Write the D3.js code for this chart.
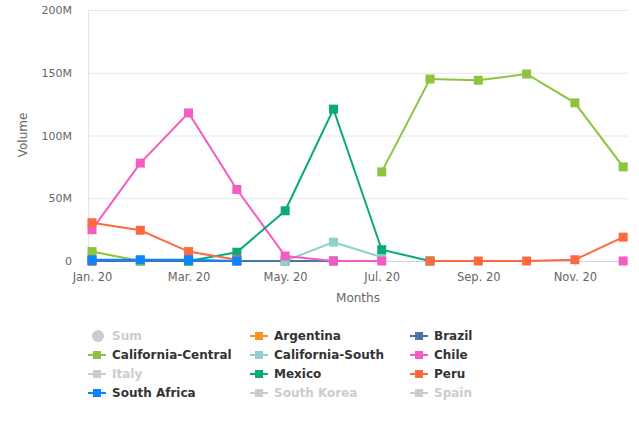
<!DOCTYPE html>
<html>
<head>
<meta charset="utf-8">
<script src="https://cdn.jsdelivr.net/npm/d3@7"></script>
<style>
  body { margin: 0; background: #fff; }
  svg { display: block; font-family: "DejaVu Sans", sans-serif; }
</style>
</head>
<body>
<div class="container"></div>
<script>
const WIDTH = 639;
const HEIGHT = 426;

// months shown on the x axis (one point per month)
const months = ["Jan. 20", "Feb. 20", "Mar. 20", "Apr. 20", "May. 20", "Jun. 20",
                "Jul. 20", "Aug. 20", "Sep. 20", "Oct. 20", "Nov. 20", "Dec. 20"];
const yTicks = [0, 50, 100, 150, 200]; // millions

// values in millions, null = no data
const argentina = [0, null, null, null, null, null, null, null, null, null, null, null];
const brazil = [0, 0, 0, 0, 0, 0, null, null, null, null, null, null];
const californiaCentral = [7.5, 0, null, null, null, null, 71, 145, 144, 149, 126, 75];
const californiaSouth = [null, null, null, null, 0, 15, 3, null, null, null, null, null];
const chile = [25, 78, 118, 57, 4, 0, 0, null, null, null, null, 0];
const mexico = [null, null, 0, 7, 40, 121, 9, 0, null, null, null, null];
const peru = [30.5, 24.5, 7.5, 1, null, null, null, 0, 0, 0, 1, 19];
const southAfrica = [1, 1, 1, 0, null, null, null, null, null, null, null, null];

const seriesNames = ["Sum", "Argentina", "Brazil", "California-Central", "California-South", "Chile",
                     "Italy", "Mexico", "Peru", "South Africa", "South Korea", "Spain"];
const seriesColors = ["#cccccc", "#f7931e", "#4a74a8", "#8cc440", "#8fd0ca", "#f35cc0",
                      "#cccccc", "#08a97b", "#fd6a3f", "#0a84ff", "#cccccc", "#cccccc"];
const seriesData = [null, argentina, brazil, californiaCentral, californiaSouth, chile,
                    null, mexico, peru, southAfrica, null, null];

const PLOT_LEFT = 88;
const PLOT_RIGHT = 628;
const PLOT_TOP = 10;
const PLOT_BOTTOM = 261;

var svg = d3.select(".container")
    .append("svg")
    .attr("width", WIDTH)
    .attr("height", HEIGHT);

var xScale = d3.scaleLinear()
    .domain([-0.083, 11.1])
    .range([PLOT_LEFT, PLOT_RIGHT]);

var yScale = d3.scaleLinear()
    .domain([0, 200])
    .range([PLOT_BOTTOM, PLOT_TOP]);

// grid lines
svg.append("g")
    .selectAll("line")
    .data(yTicks.slice(1))
    .join("line")
    .attr("x1", PLOT_LEFT).attr("x2", PLOT_RIGHT)
    .attr("y1", d => yScale(d) + 0.5).attr("y2", d => yScale(d) + 0.5)
    .attr("stroke", "#e6e6e6");

// left axis line
svg.append("line")
    .attr("x1", PLOT_LEFT + 0.5).attr("x2", PLOT_LEFT + 0.5)
    .attr("y1", PLOT_TOP).attr("y2", PLOT_BOTTOM)
    .attr("stroke", "#e6e6e6");

// y labels
svg.append("g")
    .selectAll("text")
    .data(yTicks)
    .join("text")
    .attr("x", 72)
    .attr("y", d => yScale(d) + 4)
    .attr("text-anchor", "end")
    .attr("font-size", 11)
    .attr("fill", "#666")
    .text(d => d === 0 ? "0" : d + "M");

// x axis
var xAxis = d3.axisBottom(xScale)
    .tickValues(d3.range(0, 12, 2))
    .tickFormat(i => months[i])
    .tickSize(5)
    .tickSizeOuter(0);

var gx = svg.append("g")
    .attr("transform", "translate(0," + (PLOT_BOTTOM + 0.5) + ")")
    .call(xAxis);
gx.select(".domain").attr("stroke", "#ccd6eb").attr("d", "M" + PLOT_LEFT + ",0H" + PLOT_RIGHT);
gx.selectAll(".tick line").attr("stroke", "#ccd6eb");
gx.selectAll(".tick text")
    .attr("fill", "#666")
    .attr("font-size", 11.5)
    .attr("font-family", "DejaVu Sans, sans-serif")
    .attr("dy", "0.95em")
    .attr("y", 9);

// axis titles
svg.append("text")
    .attr("transform", "translate(27,135) rotate(-90)")
    .attr("text-anchor", "middle")
    .attr("font-size", 12)
    .attr("fill", "#666")
    .text("Volume");

svg.append("text")
    .attr("x", 358)
    .attr("y", 302)
    .attr("text-anchor", "middle")
    .attr("font-size", 12)
    .attr("fill", "#666")
    .text("Months");

// lines and markers
var line = d3.line()
    .defined(d => d !== null)
    .x((d, i) => xScale(i))
    .y(d => yScale(d));

var plot = svg.append("g");
seriesData.forEach(function (values, k) {
    if (!values) return;
    var g = plot.append("g");
    g.append("path")
        .attr("d", line(values))
        .attr("fill", "none")
        .attr("stroke", seriesColors[k])
        .attr("stroke-width", 2);
    g.selectAll("rect")
        .data(values.map((v, i) => ({ v: v, i: i })).filter(d => d.v !== null))
        .join("rect")
        .attr("x", d => xScale(d.i) - 4.5)
        .attr("y", d => yScale(d.v) - 4.5)
        .attr("width", 9)
        .attr("height", 9)
        .attr("fill", seriesColors[k]);
});

// legend
var legend = svg.append("g");
var colX = [88, 250, 410];
var rowY = [336, 355, 374, 393];
seriesNames.forEach(function (name, k) {
    var x = colX[k % 3], y = rowY[Math.floor(k / 3)];
    var hidden = seriesData[k] === null;
    var item = legend.append("g").attr("transform", "translate(" + x + "," + y + ")");
    if (k === 0) {
        item.append("circle").attr("cx", 10).attr("cy", 0).attr("r", 6).attr("fill", "#cccccc");
    } else {
        item.append("line").attr("x1", 0).attr("x2", 18).attr("y1", 0).attr("y2", 0)
            .attr("stroke", seriesColors[k]).attr("stroke-width", 2);
        item.append("rect").attr("x", 5).attr("y", -4).attr("width", 8).attr("height", 8)
            .attr("fill", seriesColors[k]);
    }
    item.append("text")
        .attr("x", 24)
        .attr("y", 4)
        .attr("font-size", 12)
        .attr("font-weight", "bold")
        .attr("fill", hidden ? "#cccccc" : "#333333")
        .text(name);
});
</script>
</body>
</html>
